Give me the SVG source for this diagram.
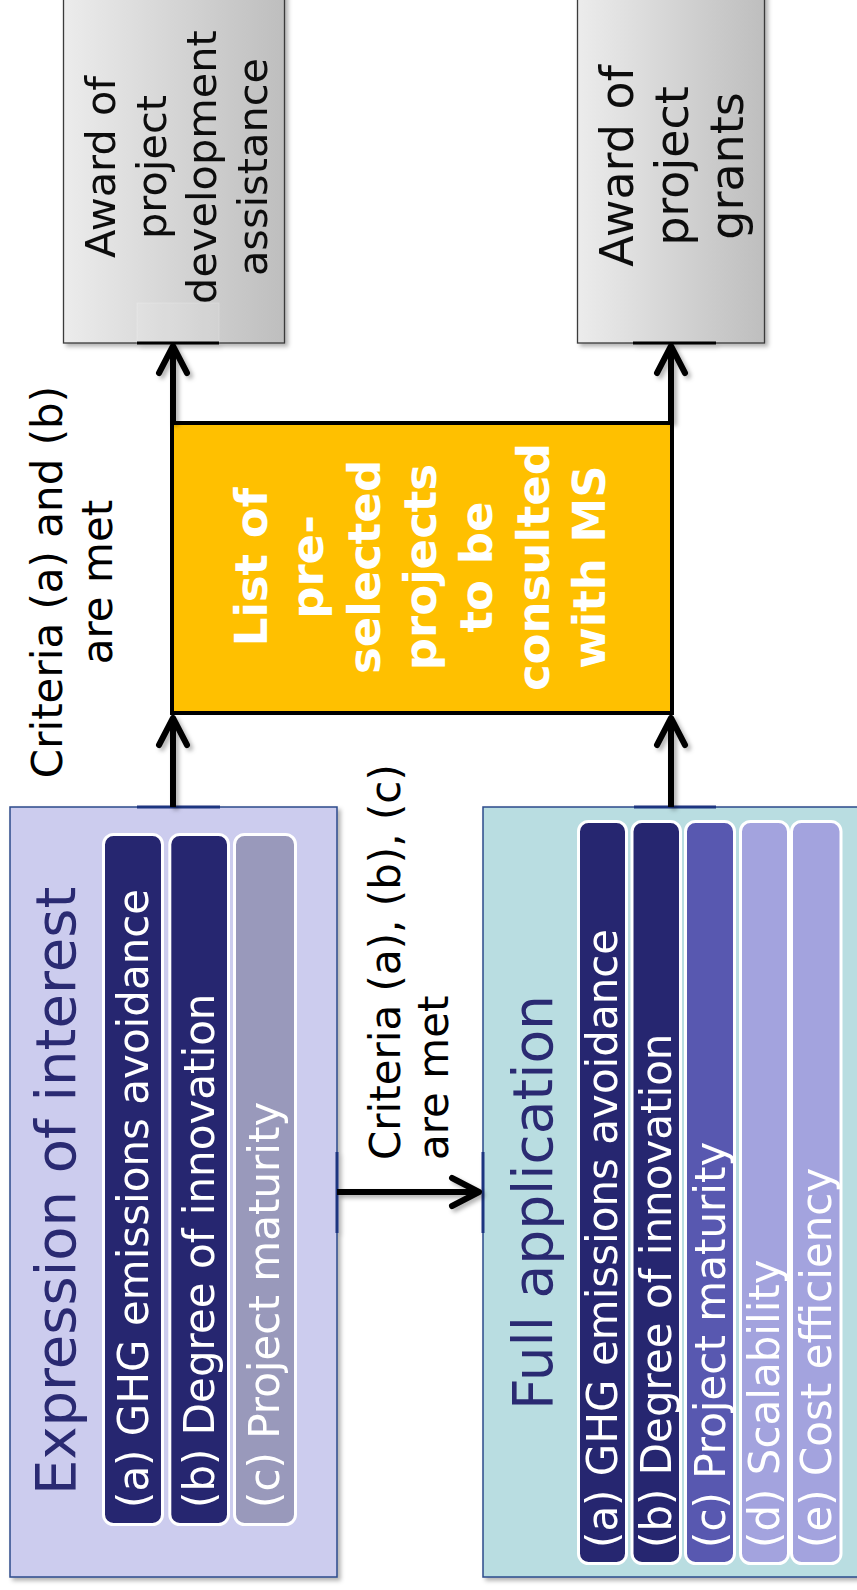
<svg xmlns="http://www.w3.org/2000/svg" width="857" height="1590" viewBox="0 0 857 1590">
<defs>
<linearGradient id="grey" x1="0" y1="0" x2="1" y2="0">
<stop offset="0" stop-color="#ececec"/>
<stop offset="1" stop-color="#bebebe"/>
</linearGradient>
<filter id="sh" filterUnits="userSpaceOnUse" x="0" y="-20" width="900" height="1640">
<feDropShadow dx="3" dy="3" stdDeviation="2" flood-color="#000" flood-opacity="0.3"/>
</filter>
<marker id="arr" markerUnits="userSpaceOnUse" viewBox="-40 -25 50 50" markerWidth="50" markerHeight="50" refX="0" refY="0" orient="auto" overflow="visible">
<path d="M-27,-14 L0,0 L-27,14" fill="none" stroke="#000" stroke-width="6" stroke-linecap="round" stroke-linejoin="round"/>
</marker>
<style>
text{font-family:"DejaVu Sans","Verdana",sans-serif}
.lbl{font-size:42px;fill:#000}
.gbox{fill:url(#grey);stroke:#3a3a3a;stroke-width:1.3}
.gtxt{fill:#111}
.title{fill:#2b2a72}
.chip{stroke:#fff;stroke-width:3}
.ctxt{font-size:42px;fill:#fff}
.conn{fill:none;stroke:#000;stroke-width:6}
.site{stroke:#1f3580;stroke-width:3}
</style>
</defs>

<g id="award-pda" filter="url(#sh)">
<rect class="gbox" x="63.5" y="-10" width="221" height="353"/>
<rect x="137" y="303" width="82" height="40" fill="#fff" fill-opacity="0.12" stroke="#fff" stroke-opacity="0.25" stroke-width="0.8"/>
<line x1="137" y1="343" x2="219" y2="343" stroke="#000" stroke-width="3"/>
<text class="gtxt" font-size="41.5" text-anchor="middle" transform="translate(115,167) rotate(-90)"><tspan x="0" dy="0">Award of</tspan><tspan x="0" dy="50.7">project</tspan><tspan x="0" dy="50.7">development</tspan><tspan x="0" dy="50.7">assistance</tspan></text>
</g>

<g id="award-grants" filter="url(#sh)">
<rect class="gbox" x="577.5" y="-10" width="187" height="353"/>
<line x1="633" y1="343" x2="716" y2="343" stroke="#000" stroke-width="3"/>
<text class="gtxt" font-size="46" text-anchor="middle" transform="translate(633,166) rotate(-90)"><tspan x="0" dy="0">Award of</tspan><tspan x="0" dy="55">project</tspan><tspan x="0" dy="55">grants</tspan></text>
</g>

<g id="shortlist">
<rect x="172" y="423" width="500" height="290" fill="#ffc000" stroke="#000" stroke-width="4"/>
<text fill="#fff" font-size="45" font-weight="bold" text-anchor="middle" transform="translate(267,567) rotate(-90)"><tspan x="0" dy="0">List of</tspan><tspan x="0" dy="56.3">pre-</tspan><tspan x="0" dy="56.3">selected</tspan><tspan x="0" dy="56.3">projects</tspan><tspan x="0" dy="56.3">to be</tspan><tspan x="0" dy="56.3">consulted</tspan><tspan x="0" dy="56.3">with MS</tspan></text>
</g>

<g id="expression" filter="url(#sh)">
<rect x="10" y="807" width="327" height="770" fill="#ccccee" stroke="#2b4a8b" stroke-width="1.5"/>
<line class="site" x1="137" y1="807" x2="220" y2="807"/>
<line class="site" x1="337" y1="1152" x2="337" y2="1233"/>
<text class="title" font-size="56" transform="translate(75,1495) rotate(-90)">Expression of interest</text>
<rect class="chip" x="103.5" y="834.5" width="59" height="690" rx="10" fill="#28276f"/>
<rect class="chip" x="169.8" y="834.5" width="58.7" height="690" rx="10" fill="#28276f"/>
<rect class="chip" x="234.5" y="834.5" width="61" height="690" rx="10" fill="#9999bb"/>
<text class="ctxt" transform="translate(148,1508) rotate(-90)">(a) GHG emissions avoidance</text>
<text class="ctxt" transform="translate(214,1508) rotate(-90)">(b) Degree of innovation</text>
<text class="ctxt" transform="translate(279,1508) rotate(-90)">(c) Project maturity</text>
</g>

<g id="full-application" filter="url(#sh)">
<rect x="483" y="807" width="400" height="770" fill="#b9dde1" stroke="#2b4a8b" stroke-width="1.5"/>
<line class="site" x1="634" y1="807" x2="716" y2="807"/>
<line class="site" x1="483" y1="1152" x2="483" y2="1233"/>
<text class="title" font-size="55" transform="translate(552,1410) rotate(-90)">Full application</text>
<rect class="chip" x="578.5" y="821.5" width="48" height="742" rx="10" fill="#28276f"/>
<rect class="chip" x="632" y="821.5" width="48.5" height="742" rx="10" fill="#28276f"/>
<rect class="chip" x="685.5" y="821.5" width="49" height="742" rx="10" fill="#5858b0"/>
<rect class="chip" x="740.5" y="821.5" width="48" height="742" rx="10" fill="#a3a3de"/>
<rect class="chip" x="791.5" y="821.5" width="49.5" height="742" rx="10" fill="#a3a3de"/>
<text class="ctxt" transform="translate(617,1548) rotate(-90)">(a) GHG emissions avoidance</text>
<text class="ctxt" transform="translate(671,1548) rotate(-90)">(b) Degree of innovation</text>
<text class="ctxt" transform="translate(725,1548) rotate(-90)">(c) Project maturity</text>
<text class="ctxt" transform="translate(779,1548) rotate(-90)">(d) Scalability</text>
<text class="ctxt" transform="translate(831,1548) rotate(-90)">(e) Cost efficiency</text>
</g>

<g id="connectors" filter="url(#sh)">
<line class="conn" x1="173" y1="807" x2="173" y2="718" marker-end="url(#arr)"/>
<line class="conn" x1="173" y1="423" x2="173" y2="346" marker-end="url(#arr)"/>
<line class="conn" x1="671" y1="807" x2="671" y2="718" marker-end="url(#arr)"/>
<line class="conn" x1="671" y1="423" x2="671" y2="346" marker-end="url(#arr)"/>
<line class="conn" x1="337" y1="1192" x2="479" y2="1192" marker-end="url(#arr)"/>
</g>

<g id="labels">
<text class="lbl" text-anchor="middle" transform="translate(62,582) rotate(-90)"><tspan x="0" dy="0">Criteria (a) and (b)</tspan><tspan x="0" dy="50">are met</tspan></text>
<text class="lbl" transform="translate(400,1160) rotate(-90)"><tspan x="0" dy="0">Criteria (a), (b), (c)</tspan><tspan x="0" dy="48">are met</tspan></text>
</g>
</svg>
